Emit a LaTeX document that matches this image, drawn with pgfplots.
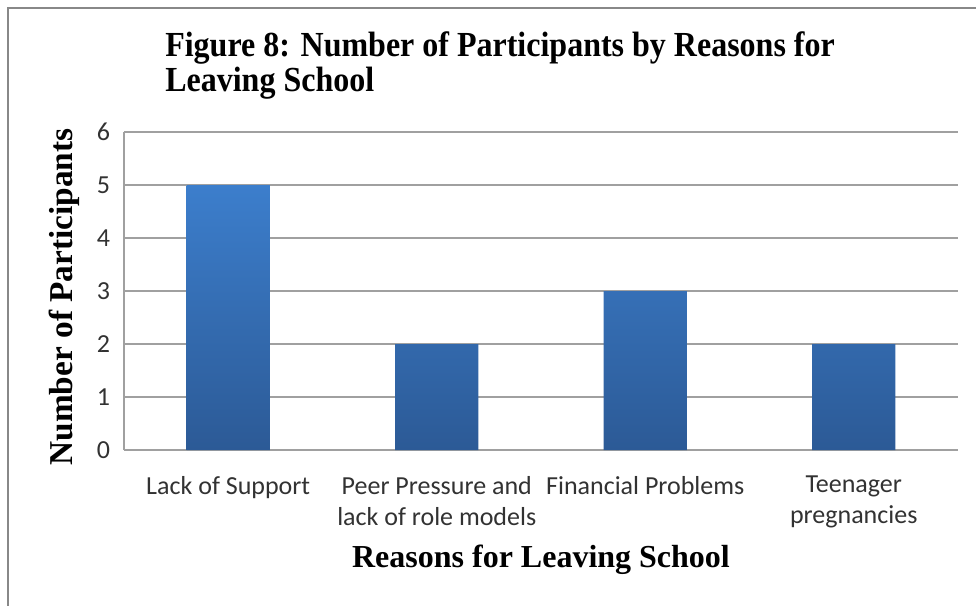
\documentclass[border=0pt]{standalone}
\usepackage{pgfplots}
\pgfplotsset{compat=1.18}
\usepackage{fontspec}
\setmainfont{Liberation Serif}
\newfontfamily\calib{Carlito}
\definecolor{bartop}{RGB}{60,126,204}
\definecolor{barbot}{RGB}{44,90,150}
\definecolor{gridc}{RGB}{160,160,160}
\definecolor{framec}{RGB}{136,136,136}
\definecolor{tickc}{RGB}{50,50,50}
\begin{document}
\begin{tikzpicture}
\useasboundingbox (0pt,0pt) rectangle (732pt,-454.5pt);
\draw[framec, line width=1.5pt] (732pt,-6pt) -- (6pt,-6pt) -- (6pt,-454.5pt);
\begin{axis}[
  at={(93pt,-337.5pt)}, anchor=south west,
  scale only axis, width=625.5pt, height=238.5pt,
  xmin=-0.5, xmax=3.5, ymin=0, ymax=6,
  axis x line*=bottom, axis y line*=left,
  axis line style={gridc, line width=1.2pt, -},
  ymajorgrids, grid style={gridc, line width=1.2pt},
  ytick={0,1,2,3,4,5,6},
  xtick={0,1,2,3},
  xticklabels={{Lack of Support},{Peer Pressure and\\lack of role models},{Financial Problems},{Teenager\\pregnancies}},
  major tick length=0pt,
  /pgf/number format/assume math mode=true,
  tick label style={font=\calib\fontsize{19.5}{23.25}\selectfont, text=tickc},
  xticklabel style={align=center, yshift=-16pt},
  yticklabel style={xshift=-7pt},
  ybar, bar width=0.4,
]
\addplot[draw=none, top color=bartop, bottom color=barbot] coordinates {(0,5) (1,2) (2,3) (3,2)};
\end{axis}
\node[anchor=base west, inner sep=0pt] at (123.75pt,-42.75pt) {\scalebox{1}[1.1]{\fontsize{24}{28}\selectfont\bfseries Figure 8: Number of Participants by Reasons for}};
\node[anchor=base west, inner sep=0pt] at (123.75pt,-69pt) {\scalebox{1}[1.1]{\fontsize{24}{28}\selectfont\bfseries Leaving School}};
\node[anchor=base, font=\fontsize{24}{28}\selectfont\bfseries, inner sep=0pt] at (405.75pt,-425.5pt) {Reasons for Leaving School};
\node[anchor=base, rotate=90, font=\fontsize{25}{28}\selectfont\bfseries, inner sep=0pt] at (54pt,-222.75pt) {Number of Participants};
\end{tikzpicture}
\end{document}
